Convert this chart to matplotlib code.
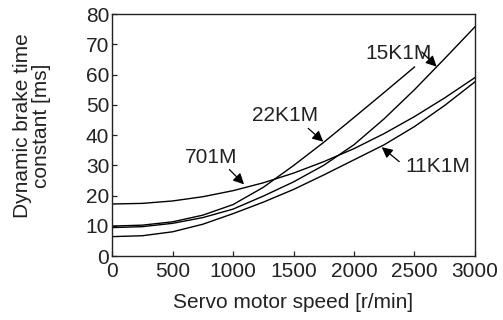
import matplotlib
matplotlib.use('Agg')
import matplotlib.pyplot as plt

plt.rcParams['font.family'] = ['Liberation Sans', 'DejaVu Sans']

# servo motor speed [r/min]
speed = [0, 250, 500, 750, 1000, 1250, 1500, 1750, 2000, 2250, 2500, 2750, 3000]

# dynamic brake time constant [ms]
tc_701m = [17.2, 17.4, 18.2, 19.6, 21.6, 24.2, 27.4, 31.2, 35.5, 40.5, 46.1, 52.3, 59.0]
tc_11k1m = [6.4, 6.7, 8.0, 10.5, 14.0, 17.8, 22.0, 26.8, 31.8, 36.8, 42.8, 49.8, 57.6]
tc_15k1m = [9.4, 9.7, 10.8, 12.7, 15.5, 19.8, 24.5, 30.0, 36.8, 45.4, 55.0, 65.3, 75.8]
speed_22k1m = [0, 250, 500, 750, 1000, 1250, 1500, 1750, 2000, 2250, 2500]
tc_22k1m = [9.9, 10.2, 11.3, 13.5, 17.0, 22.7, 29.9, 37.6, 45.8, 54.1, 62.5]

fig = plt.figure(figsize=(5.03, 3.20), dpi=100)
ax = fig.add_axes([0.2227, 0.2, 0.7216, 0.756])

for x, y in [(speed, tc_701m), (speed, tc_11k1m), (speed, tc_15k1m), (speed_22k1m, tc_22k1m)]:
    ax.plot(x, y, color='black', lw=1.0)

ax.set_xlim(0, 3000)
ax.set_ylim(0, 80)
ax.set_xticks(range(0, 3001, 500))
ax.set_yticks(range(0, 81, 10))
ax.tick_params(direction='in', length=3.5, width=0.9, labelsize=15, colors='#222222')
ax.tick_params(axis='y', pad=2)
ax.tick_params(axis='x', pad=4)
for s in ax.spines.values():
    s.set_linewidth(1.0)
    s.set_color('#222222')

ax.set_xlabel('Servo motor speed [r/min]', fontsize=15, color='#222222')
ax.xaxis.set_label_coords(0.5, -0.153)
ax.set_ylabel('Dynamic brake time\nconstant [ms]', fontsize=15, color='#222222',
              linespacing=1.0)
ax.yaxis.set_label_coords(-0.168, 0.54)

# curve labels with arrows
labels = [
    ('15K1M', (2372, 66.9), (2560, 67.5), (2683, 62.6)),
    ('22K1M', (1430, 46.3), (1622, 42.2), (1746, 37.8)),
    ('701M', (818, 32.5), (970, 28.6), (1091, 23.7)),
    ('11K1M', (2690, 29.5), (2374, 31.2), (2229, 36.0)),
]
for txt, pos, start, tip in labels:
    ax.text(pos[0], pos[1], txt, fontsize=15, ha='center', va='center', color='#222222')
    ax.annotate('', xy=tip, xytext=start,
                arrowprops=dict(arrowstyle='-|>', color='black', lw=0.9,
                                mutation_scale=16, shrinkA=0, shrinkB=0))

fig.savefig('out.png', dpi=100)
